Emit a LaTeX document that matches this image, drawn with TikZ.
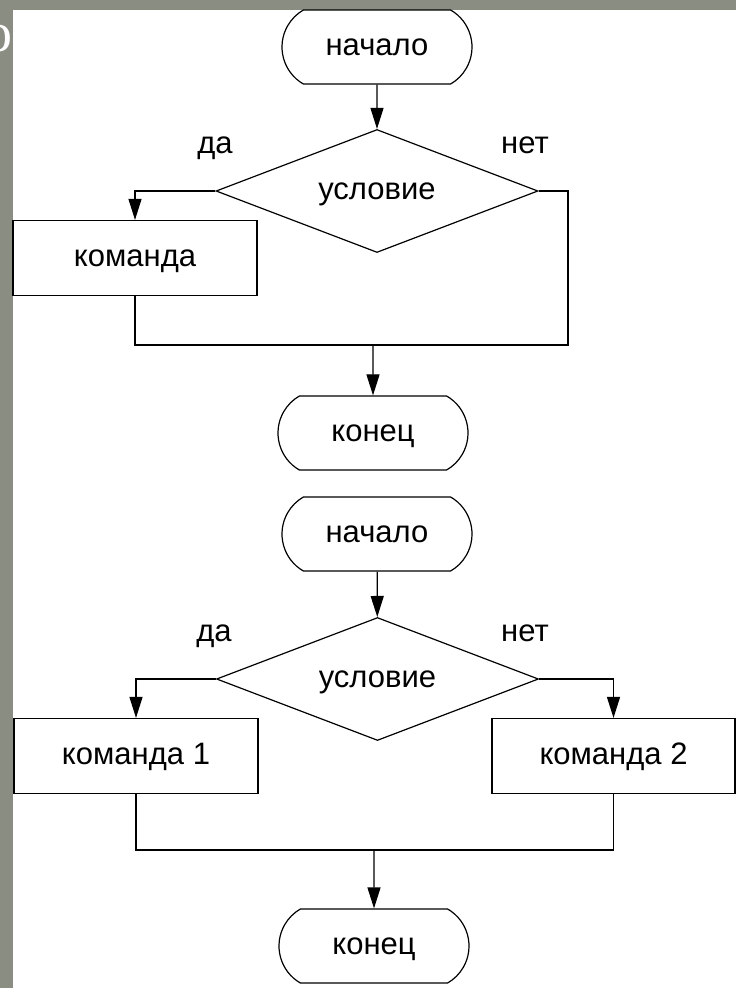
\documentclass[tikz,border=0pt]{standalone}
\usepackage{fontspec}
\setmainfont{Liberation Sans}
\newfontfamily\titlefont{Liberation Serif}
\usetikzlibrary{shapes.geometric, shapes.misc, arrows.meta}
\definecolor{slide}{RGB}{137,141,130}

\begin{document}
\begin{tikzpicture}[x = 1pt, y = -1pt, line width = 1.2pt, font = \fontsize{31}{36}\selectfont,
	every node/.style = {text height = 17pt, text depth = 0pt},
	term/.style = {draw, rounded rectangle, rounded rectangle arc length = 120, minimum width = 190pt, minimum height = 74pt, inner sep = 0},
	cond/.style = {draw, diamond, aspect = 2.6, minimum width = 322pt, minimum height = 123pt, inner sep = 0},
	cmd/.style = {draw, rectangle, minimum width = 244pt, minimum height = 75pt, inner sep = 0},
	arr/.style = {-{Triangle[length = 21pt, width = 13pt]}}]
	\useasboundingbox (0,0) rectangle (736,988);
	\fill[slide] (0,0) rectangle (736,988);
	\node[text = white, font = \titlefont\fontsize{56}{60}\selectfont, text height = 26pt] (t) at (-2, 38) {о};
	\fill[white] (12.7,10) rectangle (736,988);
	\node[term] (1) at (377, 47) {начало};
	\node[cond] (2) at (377, 191) {условие};
	\node[cmd] (3) at (135, 258) {команда};
	\node[term] (4) at (373, 433) {конец};
	\node[] (y1) at (215, 145) {да};
	\node[] (n1) at (525, 145) {нет};
	\coordinate (r1) at (568, 191);
	\coordinate (j1) at (373, 345);
	\draw[arr] (1) -- (2);
	\draw[arr] (2.west) -| (3);
	\draw[] (3) |- (j1);
	\draw[] (2.east) -- (r1) |- (j1);
	\draw[arr] (j1) -- (4);
	\node[term] (5) at (377, 534) {начало};
	\node[cond] (6) at (377.5, 679) {условие};
	\node[cmd] (7) at (136, 756) {команда 1};
	\node[cmd, minimum width = 243pt] (8) at (613.5, 756) {команда 2};
	\node[term] (9) at (374, 946) {конец};
	\node[] (y2) at (214, 633) {да};
	\node[] (n2) at (525, 633) {нет};
	\coordinate (j2) at (374, 850);
	\draw[arr] (5) -- (6);
	\draw[arr] (6.west) -| (7);
	\draw[arr] (6.east) -| (8);
	\draw[] (7) |- (j2);
	\draw[] (8) |- (j2);
	\draw[arr] (j2) -- (9);
\end{tikzpicture}
\end{document}
